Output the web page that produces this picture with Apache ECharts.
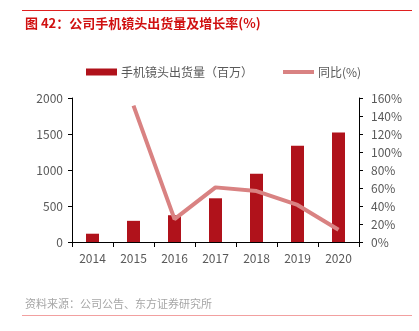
<!DOCTYPE html>
<html><head><meta charset="utf-8">
<script src="https://cdn.jsdelivr.net/npm/echarts@6/dist/echarts.min.js"></script>
<style>html,body{margin:0;padding:0;background:#fff}#c{width:419px;height:331px}</style>
</head><body><div id="c"></div>
<script>
const categories = ['2014','2015','2016','2017','2018','2019','2020'];
const shipments = [115, 294, 372, 607, 947, 1338, 1522];
const yoy = [null, 151.5, 25.4, 60.7, 56.6, 41.2, 13.6];

const font = '"Microsoft YaHei","Noto Sans CJK SC",sans-serif';
const chart = echarts.init(document.getElementById('c'));
chart.setOption({
  animation: false,
  backgroundColor: '#fff',
  textStyle: {fontFamily: font},
  graphic: [
    {type: 'line', shape: {x1: 22, y1: 10.5, x2: 412, y2: 10.5}, style: {stroke: '#e02020', lineWidth: 1}},
    {type: 'text', left: 25, top: 17, style: {text: '图 42：公司手机镜头出货量及增长率(%)', fill: '#d01010', font: 'bold 13px ' + font}},
    {type: 'text', left: 25, top: 298, style: {text: '资料来源：公司公告、东方证券研究所', fill: '#a6a6a6', font: '11px ' + font}},
    {type: 'line', shape: {x1: 22, y1: 315.5, x2: 412, y2: 315.5}, style: {stroke: '#f2a0a0', lineWidth: 1}}
  ],
  legend: {
    top: 61, left: 81,
    itemWidth: 31, itemHeight: 7, itemGap: 30,
    textStyle: {color: '#595959', fontSize: 12, padding: [0, 0, 0, -1]},
    data: [
      {name: '手机镜头出货量（百万）', icon: 'rect'},
      {name: '同比(%)', icon: 'path://M0,0h31v4h-31z'}
    ]
  },
  grid: {left: 72, right: 60, top: 98, bottom: 89},
  xAxis: {
    type: 'category', data: categories,
    axisLine: {lineStyle: {color: '#000', width: 1}},
    axisTick: {show: true, alignWithLabel: false, length: 5, lineStyle: {color: '#000'}},
    axisLabel: {color: '#595959', fontSize: 12, margin: 10}
  },
  yAxis: [
    {
      type: 'value', min: 0, max: 2000, interval: 500,
      axisLine: {show: true, lineStyle: {color: '#000'}},
      axisTick: {show: true, length: 4, lineStyle: {color: '#000'}},
      splitLine: {show: false},
      axisLabel: {color: '#595959', fontSize: 12, margin: 9, formatter: v => String(v)}
    },
    {
      type: 'value', min: 0, max: 160, interval: 20, position: 'right',
      axisLine: {show: true, lineStyle: {color: '#000'}},
      axisTick: {show: true, length: 4, lineStyle: {color: '#000'}},
      splitLine: {show: false},
      axisLabel: {color: '#595959', fontSize: 12, margin: 12, formatter: v => v + '%'}
    }
  ],
  series: [
    {
      name: '手机镜头出货量（百万）', type: 'bar', data: shipments,
      barWidth: 13, itemStyle: {color: '#b0121b'}
    },
    {
      name: '同比(%)', type: 'line', yAxisIndex: 1, data: yoy,
      symbol: 'none', connectNulls: false,
      lineStyle: {color: '#d98282', width: 4},
      itemStyle: {color: '#d98282'}
    }
  ]
});
</script></body></html>
